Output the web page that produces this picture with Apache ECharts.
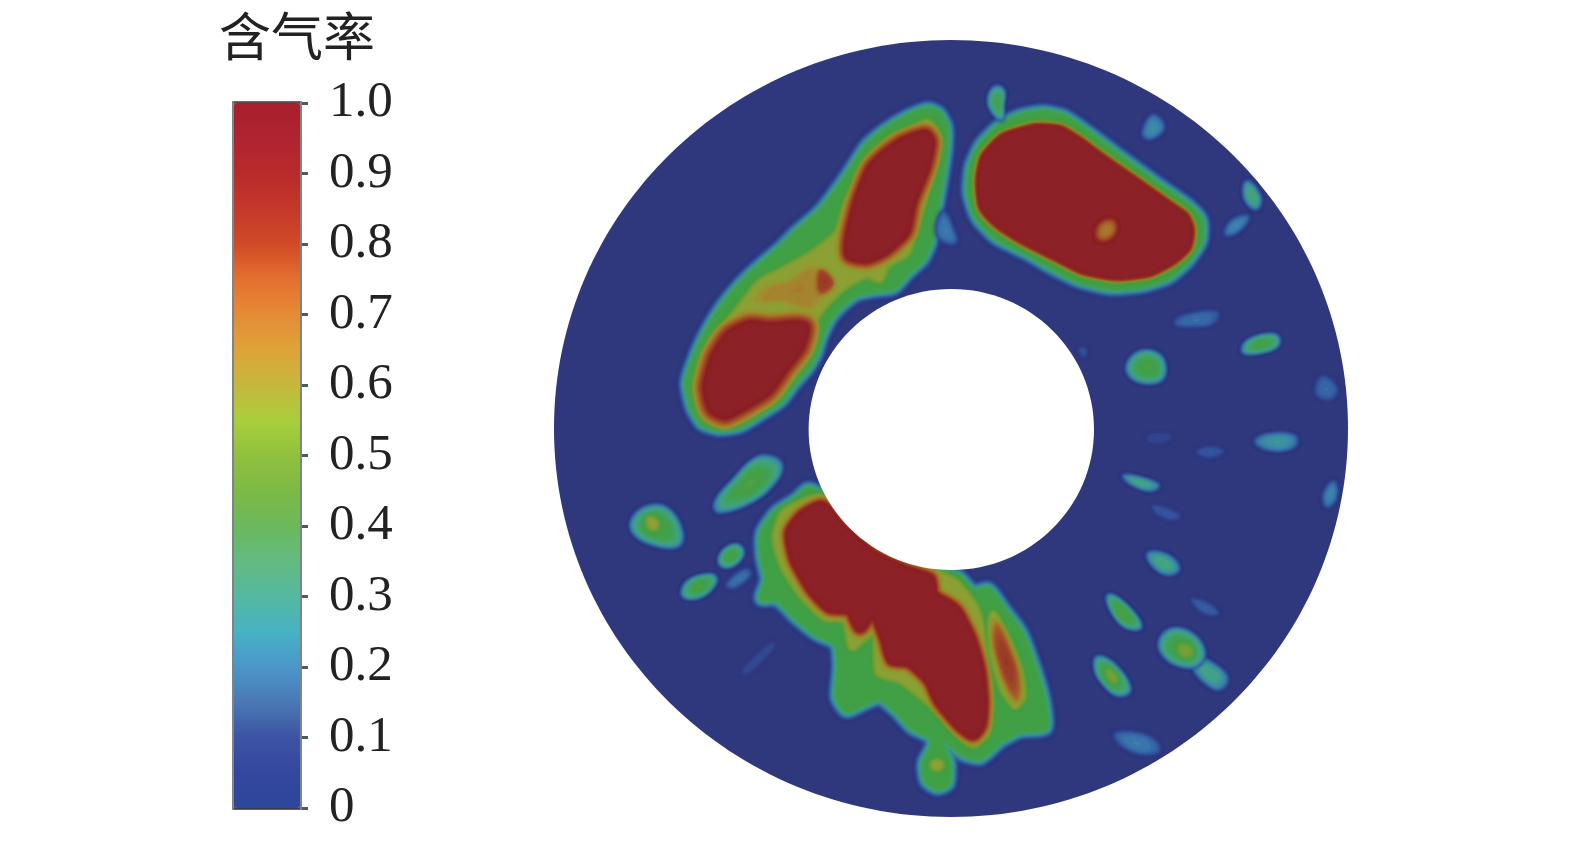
<!DOCTYPE html>
<html><head><meta charset="utf-8">
<style>html,body{margin:0;padding:0;background:#fff}#c{width:1575px;height:846px}</style>
<script src="https://cdn.jsdelivr.net/npm/echarts@6/dist/echarts.min.js"></script>
</head><body><div id="c"></div>
<script>
const titleText = '含气率';
const barTicks = [0,0.1,0.2,0.3,0.4,0.5,0.6,0.7,0.8,0.9,1];
const barColors = ['#2d469b','#33479e','#3d54a4','#4a78b4','#4b96cb','#47b2c3','#55b8a0','#63bb80','#6bb95c','#7db946','#8fc13e','#a9cf3a','#c5b83c','#dda438','#e58b35','#e4702f','#d04a27','#c4382a','#b92a2a','#ae2430','#a81f2d'];

// Annulus: [cx, cy, rx, ry] in image coordinates
const discEllipse = [951,428.5,397,388.5];
const holeEllipse = [951.3,429.5,142.7,140.5];

// Contours of gas fraction
const plumeAOuter = [[928,110],[938,114],[945,127],[945,147],[942,170],[937,200],[933,220],[930,240],[922,258],[907,272],[893,287],[877,289],[857,293],[843,303],[830,317],[820,337],[815,353],[807,367],[793,383],[780,400],[760,413],[740,425],[720,428],[703,423],[693,407],[688,383],[695,360],[707,333],[723,307],[743,283],[760,267],[780,250],[797,233],[820,213],[833,197],[850,173],[867,147],[887,130],[907,118]];
const plumeAInner = [[927,122],[936,133],[935,157],[928,183],[920,213],[913,233],[907,253],[887,265],[880,280],[867,275],[847,285],[827,303],[815,320],[808,343],[793,367],[773,390],[750,407],[725,422],[708,413],[702,387],[708,360],[722,330],[740,307],[760,282],[783,270],[813,253],[837,233],[847,203],[870,160],[890,140],[913,130]];
const plumeAMid = [[813,265],[830,277],[835,287],[822,300],[810,310],[780,302],[752,302],[764,287],[787,281]];
const plumeAPatch = [[820,270],[833,283],[820,293]];
const plumeARedUp = [[925,135],[930,142],[925,167],[911,203],[905,231],[885,250],[867,258],[850,255],[850,237],[858,203],[871,170],[884,156],[902,143]];
const plumeARedLow = [[750,326],[770,328],[797,326],[804,328],[799,347],[783,368],[767,390],[745,404],[725,414],[713,408],[708,387],[716,357],[730,336]];
const wispA = [[943,211],[953,230],[956,243],[943,241],[936,230]];

const plumeBOuter = [[1043,113],[1063,117],[1080,128],[1103,145],[1127,163],[1157,185],[1187,206],[1200,220],[1200,240],[1187,260],[1167,277],[1140,285],[1110,287],[1080,280],[1053,267],[1027,252],[997,237],[978,217],[970,193],[972,167],[982,145],[1000,127],[1020,117]];
const plumeBInner = [[1037,128],[1060,130],[1077,140],[1103,159],[1133,180],[1167,204],[1185,217],[1190,230],[1187,247],[1173,260],[1150,272],[1117,276],[1083,270],[1057,257],[1023,240],[997,223],[983,207],[980,180],[985,157],[1003,138],[1020,132]];
const plumeBSpot = [[1100,224],[1113,220],[1116,230],[1107,240],[1097,238]];

const plumeCOuter = [[808,490],[820,495],[840,520],[873,550],[907,567],[937,573],[957,577],[973,593],[988,590],[1003,610],[1020,633],[1033,667],[1042,697],[1045,727],[1020,730],[1000,740],[980,757],[963,753],[947,740],[940,737],[943,750],[948,763],[947,783],[937,787],[927,780],[925,763],[933,747],[933,737],[913,727],[897,710],[880,697],[863,703],[847,710],[838,697],[840,667],[837,643],[817,633],[797,617],[777,598],[762,598],[768,580],[763,557],[763,533],[777,513],[797,500]];
const plumeCInner = [[820,497],[840,520],[873,550],[907,567],[937,573],[957,583],[977,610],[987,657],[990,703],[987,733],[973,745],[957,733],[937,710],[917,693],[900,680],[878,673],[875,630],[852,648],[845,620],[825,618],[803,597],[783,567],[775,537],[783,513],[800,503]];
const plumeCRed = [[822,506],[840,526],[873,555],[907,571],[930,579],[933,595],[951,606],[958,613],[971,639],[980,670],[983,703],[981,725],[973,735],[959,725],[939,701],[929,680],[909,662],[892,660],[885,638],[873,612],[860,628],[850,610],[830,608],[812,590],[795,560],[790,533],[802,516]];
const lensOuter = [[993,613],[1007,637],[1020,670],[1023,697],[1015,707],[1003,690],[993,657],[990,630]];
const lensInner = [[996,621],[1009,647],[1019,677],[1018,702],[1009,691],[997,657],[993,635]];
const satelliteSpot = [[932,761],[942,761],[942,769],[932,769]];
const faintC = [[773,641],[776,645],[746,675],[741,672]];

const spotD = [[757,458],[775,458],[782,467],[772,485],[750,502],[718,512],[715,503],[733,481]];
const spotE = [[650,506],[669,510],[682,533],[678,546],[653,544],[633,532],[633,518]];
const spotECore = [[647,517],[657,520],[657,529],[650,529]];
const spotF = [[737,545],[743,553],[731,566],[720,564],[723,552]];
const spotG = [[712,575],[716,581],[701,596],[683,596],[688,582]];
const spotH = [[746,569],[751,574],[733,588],[726,585]];
const spotI = [[1140,352],[1159,355],[1165,370],[1159,381],[1136,380],[1127,367]];
const spotJ = [[1275,335],[1279,343],[1268,350],[1243,352],[1248,341]];
const spotK = [[1218,312],[1214,323],[1193,326],[1174,324],[1182,316]];
const spotL = [[1322,376],[1337,388],[1331,399],[1316,394]];
const spotM = [[1295,436],[1295,446],[1273,450],[1255,442],[1266,435]];
const spotN = [[1224,451],[1211,457],[1196,452],[1210,447]];
const spotO = [[1150,434],[1171,435],[1166,442],[1147,441]];
const spotP = [[1123,475],[1159,485],[1151,490],[1131,483]];
const spotQ = [[1152,505],[1180,515],[1174,520],[1156,513]];
const spotR = [[1334,481],[1336,497],[1327,507],[1324,495]];
const spotS = [[1079,348],[1087,350],[1083,357]];
const spotT = [[1148,553],[1168,556],[1179,569],[1167,574],[1152,564]];
const spotU = [[1108,595],[1124,604],[1141,627],[1127,627],[1113,612]];
const spotVHead = [[1173,629],[1193,635],[1204,652],[1198,665],[1179,665],[1163,654],[1160,640]];
const spotVCore = [[1179,645],[1191,647],[1191,656],[1181,655]];
const spotVTail = [[1197,658],[1206,660],[1227,677],[1221,689],[1209,685],[1193,667]];
const spotW = [[1097,657],[1114,665],[1130,690],[1118,695],[1102,681],[1096,670]];
const spotWCore = [[1107,669],[1116,675],[1116,683],[1109,679]];
const spotX = [[1191,599],[1208,604],[1219,614],[1204,613]];
const spotY = [[1115,733],[1148,736],[1160,750],[1143,754],[1120,744]];
const spotTop = [[995,87],[1003,90],[1002,107],[1002,120],[994,113],[989,100]];
const spotB1 = [[1153,115],[1164,127],[1150,139],[1143,134]];
const spotB2 = [[1247,181],[1260,198],[1256,209],[1245,197]];
const spotB3 = [[1249,216],[1238,231],[1225,235],[1232,221]];

// Band contours: [level, base level, falloff px, grow px, points]
const bandContours = [
  [0.4,0,8,1,plumeAOuter],[0.58,0.4,4,0,plumeAInner],
  [1,0.58,12,0,plumeARedUp],[1,0.58,15,0,plumeARedLow],
  [0.4,0,8,1,plumeBOuter],[1,0.4,6,0,plumeBInner],
  [0.4,0,8,1,plumeCOuter],[0.58,0.4,4,0,plumeCInner],[1,0.58,9,0,plumeCRed],[0.58,0.4,3,0,lensOuter]
];
// Soft spots: [peak level, starting level, points]
const softSpots = [
  [0.7,0.58,plumeAMid],[0.85,0.7,plumeAPatch],[0.68,1,plumeBSpot],[0.85,0.58,lensInner],[0.62,0.42,satelliteSpot],
  [0.2,0,wispA],[0.08,0,faintC],
  [0.44,0,spotD],[0.44,0,spotE],[0.62,0.42,spotECore],[0.42,0,spotF],[0.43,0,spotG],[0.18,0,spotH],
  [0.43,0,spotI],[0.42,0,spotJ],[0.17,0,spotK],[0.16,0,spotL],[0.27,0,spotM],[0.12,0,spotN],[0.07,0,spotO],[0.32,0,spotP],[0.12,0,spotQ],[0.22,0,spotR],[0.1,0,spotS],
  [0.33,0,spotT],[0.44,0,spotU],[0.32,0,spotVTail],[0.44,0,spotVHead],[0.56,0.42,spotVCore],[0.44,0,spotW],[0.56,0.42,spotWCore],[0.14,0,spotX],[0.2,0,spotY],
  [0.4,0,spotTop],[0.24,0,spotB1],[0.34,0,spotB2],[0.22,0,spotB3]
];

const fieldPalette = ['rgb(47,55,125)','rgb(52,85,160)','rgb(60,130,175)','rgb(65,165,135)','rgb(65,160,70)','rgb(100,160,60)','rgb(150,160,50)','rgb(170,120,45)','rgb(160,70,40)','rgb(140,34,40)','rgb(140,34,40)'];
function fieldColor(v){ return echarts.color.lerp(Math.min(1,v), fieldPalette); }
function levelSteps(base, level){
  const n = Math.max(1, Math.ceil(Math.abs(level-base)/0.03));
  return Array.from({length:n}, (_,k)=>[(k+1)/n, base+(level-base)*(k+1)/n]);
}

const chart = echarts.init(document.getElementById('c'), null, {renderer:'canvas'});

function ellipseShape(e, api, fill){
  const c = api.coord([e[0],e[1]]);
  const s = api.size([e[2],e[3]]);
  return {type:'ellipse', shape:{cx:c[0],cy:c[1],rx:s[0],ry:s[1]}, style:{fill}};
}
function renderBand(params, api){
  const [level, base, spread, grow, raw] = bandContours[params.dataIndex];
  const pts = raw.map(p => api.coord(p));
  const children = levelSteps(base, level).map(([t,s]) => {
    const col = fieldColor(s);
    return {type:'polygon', shape:{points:pts, smooth:0.2},
      style:{fill:col, stroke:col, lineWidth:2*spread*(1-t)+2*grow+1, lineJoin:'round', shadowBlur:4, shadowColor:col}};
  });
  return {type:'group', children};
}
function renderSoft(params, api){
  const [level, base, raw] = softSpots[params.dataIndex];
  const pts = raw.map(p => api.coord(p));
  const cx = pts.reduce((a,p)=>a+p[0],0)/pts.length, cy = pts.reduce((a,p)=>a+p[1],0)/pts.length;
  const children = levelSteps(base, level).map(([t,s]) => {
    const f = Math.sqrt(Math.max(0.02, 1-t*t*t));
    const col = fieldColor(s);
    return {type:'polygon', shape:{points:pts.map(p=>[cx+(p[0]-cx)*f, cy+(p[1]-cy)*f]), smooth:0.4},
      style:{fill:col, shadowBlur:4, shadowColor:col}};
  });
  return {type:'group', children};
}
function renderFrame(params, api){
  const a = api.coord([0,1]), b = api.coord([0,0]);
  const s = api.size([1,1]);
  return {type:'group', children:[
    {type:'rect', shape:{x:a[0]-s[0]/2,y:a[1],width:s[0],height:b[1]-a[1]}, style:{fill:'none',stroke:'#7f8488',lineWidth:4}},
    {type:'line', shape:{x1:a[0]-s[0]/2,y1:a[1],x2:a[0]+s[0]/2,y2:a[1]}, style:{stroke:'#5a4a4a',lineWidth:3}},
    {type:'line', shape:{x1:a[0]-s[0]/2,y1:b[1],x2:a[0]+s[0]/2,y2:b[1]}, style:{stroke:'#3a4048',lineWidth:3}}
  ]};
}

chart.setOption({
  animation:false,
  backgroundColor:'#fff',
  title:{text:titleText,left:214,top:5,textStyle:{fontFamily:'"Noto Sans CJK SC"',fontWeight:'normal',fontSize:52,color:'#222'}},
  grid:[
    {left:0,top:0,width:1575,height:846},
    {left:234,top:103,width:66,height:705}
  ],
  xAxis:[
    {gridIndex:0,type:'value',min:0,max:1575,show:false},
    {gridIndex:1,type:'category',data:['含气率'],show:false}
  ],
  yAxis:[
    {gridIndex:0,type:'value',min:0,max:846,inverse:true,show:false},
    {gridIndex:1,type:'value',min:0,max:1,interval:0.1,position:'right',splitLine:{show:false},
     axisLine:{show:true,lineStyle:{color:'#4d5a60',width:2}},
     axisTick:{show:true,length:8,lineStyle:{color:'#4d5a60',width:3}},
     axisLabel:{show:true,margin:29,padding:[0,0,8,0],fontFamily:'"Liberation Serif"',fontSize:51,color:'#222',
       customValues:barTicks,
       formatter:v=>v===0?'0':Number(v).toFixed(1)}}
  ],
  visualMap:{type:'continuous',min:0,max:1,left:234,top:103,itemWidth:66,itemHeight:705,padding:0,
    text:null,showLabel:false,calculable:false,hoverLink:false,realtime:false,seriesIndex:3,
    inRange:{color:barColors},textStyle:{fontSize:0,color:'transparent'}},
  series:[
    {type:'custom',xAxisIndex:0,yAxisIndex:0,clip:false,silent:true,renderItem:(p,a)=>ellipseShape(discEllipse,a,fieldColor(0)),data:[[0]],z:1},
    {type:'custom',xAxisIndex:0,yAxisIndex:0,clip:false,silent:true,renderItem:renderBand,data:bandContours.map((c,i)=>[i]),z:2},
    {type:'custom',xAxisIndex:0,yAxisIndex:0,clip:false,silent:true,renderItem:renderSoft,data:softSpots.map((c,i)=>[i]),z:3},
    {type:'custom',xAxisIndex:1,yAxisIndex:1,silent:true,renderItem:renderFrame,data:[['含气率',1]],encode:{x:0,y:1},z:1},
    {type:'custom',xAxisIndex:0,yAxisIndex:0,clip:false,silent:true,renderItem:(p,a)=>ellipseShape(holeEllipse,a,'#fff'),data:[[1]],z:4}
  ]
});
</script></body></html>
